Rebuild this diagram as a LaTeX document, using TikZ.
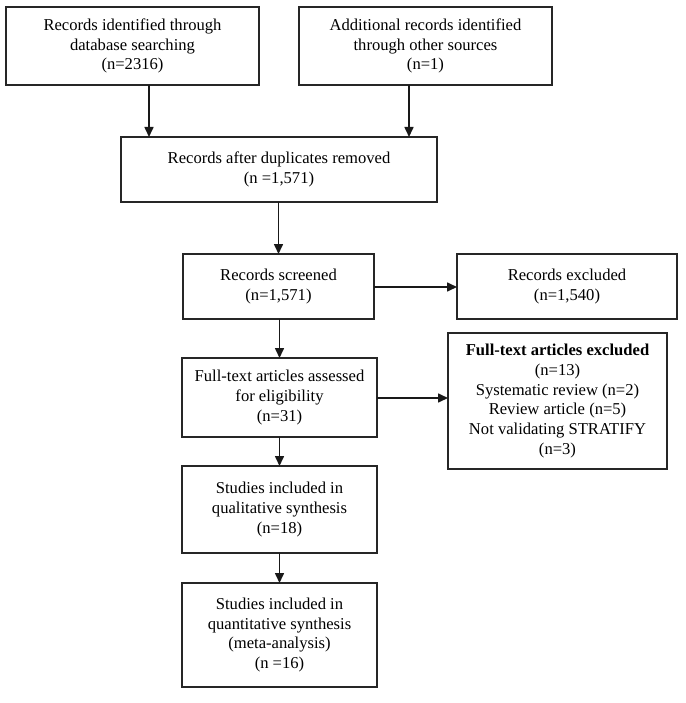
\documentclass[tikz,border=0pt]{standalone}
\usepackage{fontspec}
\setmainfont{Liberation Serif}
\usetikzlibrary{arrows.meta}
\begin{document}
\begin{tikzpicture}[x=1pt,y=-1pt,
  box/.style={draw=black!85,line width=1.4pt,align=center,inner sep=0pt,outer sep=0pt,
    font=\fontsize{16.6}{19.7}\selectfont},
  arr/.style={draw=black!90,line width=1.6pt,-{Triangle[length=10pt,width=9pt]}}]
\useasboundingbox (0,0) rectangle (685,703);
\node[box,minimum width=253pt,minimum height=78pt] (b1) at (132.5,46) {Records identified through\\database searching\\(n=2316)};
\node[box,minimum width=253pt,minimum height=78pt] (b2) at (425.5,46) {Additional records identified\\through other sources\\(n=1)};
\node[box,minimum width=316pt,minimum height=65pt] (b3) at (279,169.5) {Records after duplicates removed\\(n =1,571)};
\node[box,minimum width=191pt,minimum height=65pt] (b4) at (278.5,286.5) {Records screened\\(n=1,571)};
\node[box,minimum width=220pt,minimum height=65pt] (b5) at (567,286.5) {Records excluded\\(n=1,540)};
\node[box,minimum width=195pt,minimum height=79pt] (b6) at (279.5,397.5) {Full-text articles assessed\\for eligibility\\(n=31)};
\node[box,minimum width=219pt,minimum height=136pt] (b7) at (557.5,401) {\textbf{Full-text articles excluded}\\(n=13)\\Systematic review (n=2)\\Review article (n=5)\\Not validating STRATIFY\\(n=3)};
\node[box,minimum width=195pt,minimum height=87pt] (b8) at (279.5,509.5) {Studies included in\\qualitative synthesis\\(n=18)};
\node[box,minimum width=195pt,minimum height=104pt] (b9) at (279.5,635) {Studies included in\\quantitative synthesis\\(meta-analysis)\\(n =16)};
\coordinate (xa) at (149,0);
\coordinate (xb) at (409,0);
\coordinate (ya) at (0,287);
\coordinate (yb) at (0,398);
\draw[arr] (b1.south -| xa) -- (b3.north -| xa);
\draw[arr] (b2.south -| xb) -- (b3.north -| xb);
\draw[arr] (b3.south -| b4.north) -- (b4.north);
\draw[arr] (b4.east |- ya) -- (b5.west |- ya);
\draw[arr] (b4.south -| b6.north) -- (b6.north);
\draw[arr] (b6.east |- yb) -- (b7.west |- yb);
\draw[arr] (b6.south) -- (b8.north);
\draw[arr] (b8.south) -- (b9.north);
\end{tikzpicture}
\end{document}
